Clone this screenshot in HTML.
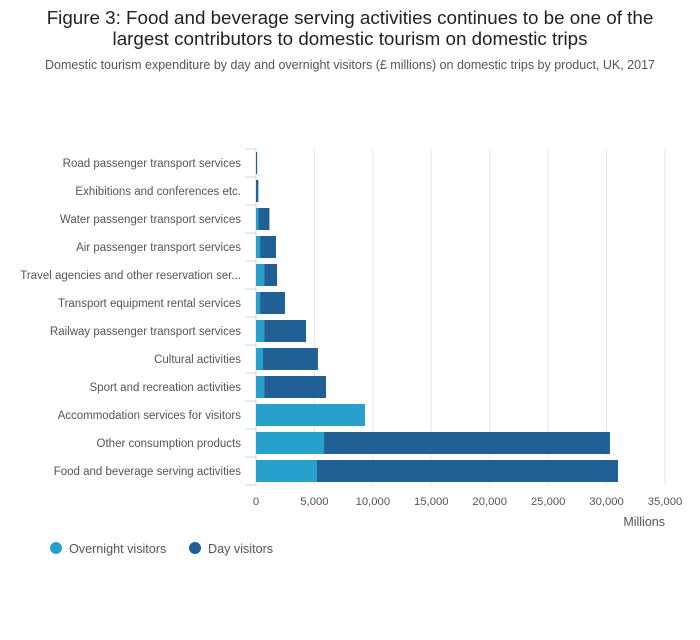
<!DOCTYPE html>
<html><head><meta charset="utf-8"><style>
body{margin:0;background:#fff;font-family:"Liberation Sans","DejaVu Sans",sans-serif;}
svg text{font-family:"Liberation Sans","DejaVu Sans",sans-serif;}
</style></head><body>
<svg id="chart" width="700" height="635" xmlns="http://www.w3.org/2000/svg">
<text x="350" y="24" text-anchor="middle" font-size="18.8" fill="#222">Figure 3: Food and beverage serving activities continues to be one of the</text>
<text x="350" y="45" text-anchor="middle" font-size="18.8" fill="#222">largest contributors to domestic tourism on domestic trips</text>
<text x="350" y="69" text-anchor="middle" font-size="12.5" fill="#555">Domestic tourism expenditure by day and overnight visitors (£ millions) on domestic trips by product, UK, 2017</text>
<g id="grid"></g><g id="bars"></g><g id="ylabels"></g><g id="xlabels"></g>
<text x="665" y="526" text-anchor="end" font-size="12.5" fill="#555">Millions</text>
<circle cx="56" cy="548" r="6" fill="#27a0cc"/>
<text x="69" y="553" font-size="12.6" fill="#555">Overnight visitors</text>
<circle cx="195" cy="548" r="6" fill="#206095"/>
<text x="208" y="553" font-size="12.6" fill="#555">Day visitors</text>
</svg>
<script>
const categories=["Road passenger transport services","Exhibitions and conferences etc.","Water passenger transport services","Air passenger transport services","Travel agencies and other reservation ser...","Transport equipment rental services","Railway passenger transport services","Cultural activities","Sport and recreation activities","Accommodation services for visitors","Other consumption products","Food and beverage serving activities"];
const overnight=[0,0,200,350,700,350,700,600,700,9330,5820,5220];
const day=[100,200,950,1360,1100,2130,3580,4700,5290,0,24470,25760];
const ticks=[0,5000,10000,15000,20000,25000,30000,35000];
const tickLabels=["0","5,000","10,000","15,000","20,000","25,000","30,000","35,000"];
const NS="http://www.w3.org/2000/svg";
const x0=256,x1=665,xmax=35000,yTop=149,band=28,bh=22;
const xs=v=>x0+(x1-x0)*v/xmax;
const yc=i=>yTop+band*i+band/2;
function mk(t,a,p){const e=document.createElementNS(NS,t);for(const k in a)e.setAttribute(k,a[k]);document.getElementById(p).appendChild(e);return e;}
ticks.forEach((t,i)=>{
 const l=mk('line',{x1:xs(t),x2:xs(t),y1:yTop,y2:yTop+band*categories.length,stroke:i==0?'#ccd6e6':'#e6e6e6','stroke-width':1},'grid');
 
 
 const tx=mk('text',{x:xs(t),y:505,'text-anchor':'middle','font-size':11.3,fill:'#555'},'xlabels');
 tx.textContent=tickLabels[i];
 
 
});
for(let i=0;i<=categories.length;i++){
 const tk=mk('line',{x1:245,x2:256,y1:yTop+band*i,y2:yTop+band*i,stroke:'#ccd6e6','stroke-width':1},'grid');
 
 
}
categories.forEach((c,i)=>{
 const t=mk('text',{x:241,y:yc(i)+4,'text-anchor':'end','font-size':11.5,fill:'#555'},'ylabels');
 t.textContent=c;
 
 
 const r1=mk('rect',{x:xs(0),y:yc(i)-bh/2,width:xs(overnight[i])-xs(0),height:bh,fill:'#27a0cc'},'bars');
 
 
 const r2=mk('rect',{x:xs(overnight[i]),y:yc(i)-bh/2,width:xs(overnight[i]+day[i])-xs(overnight[i]),height:bh,fill:'#206095'},'bars');
 
 
});
</script>
</body></html>
